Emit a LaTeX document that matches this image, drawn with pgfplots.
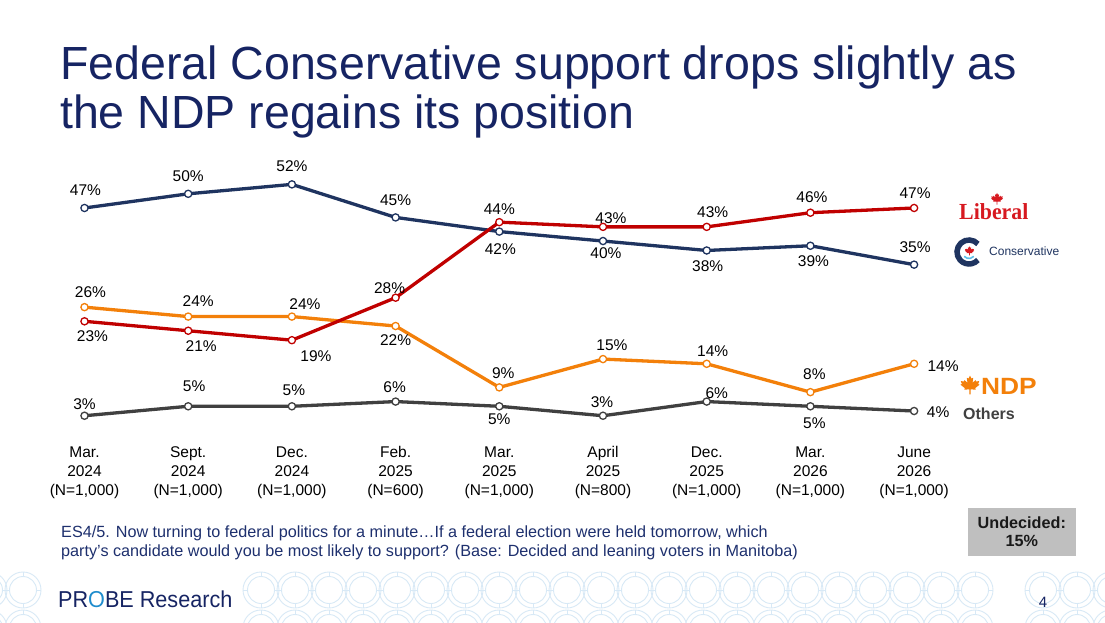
\documentclass[border=0pt]{standalone}
\usepackage{pgfplots}
\pgfplotsset{compat=1.18}
\usepackage{pgfplotstable}
\usepackage{fontspec}
\setmainfont{Liberation Sans}
\newfontfamily\serifb{Liberation Serif}

\definecolor{consnavy}{RGB}{31,52,96}
\definecolor{libred}{RGB}{192,0,0}
\definecolor{logored}{RGB}{215,25,32}
\definecolor{ndporange}{RGB}{243,128,10}
\definecolor{othgray}{RGB}{64,64,64}
\definecolor{titleblue}{RGB}{22,36,99}
\definecolor{footblue}{RGB}{30,48,110}
\definecolor{probeblue}{RGB}{30,140,205}
\definecolor{ringc}{RGB}{216,233,246}
\definecolor{cblue}{RGB}{95,190,232}
\definecolor{undgray}{RGB}{191,191,191}

% maple leaf: #1 centre, #2 scale, #3 colour
\newcommand{\mapleleaf}[3]{%
 \fill[#3, shift={(#1)}, scale=#2] (0,1) -- (0.13,0.75) -- (0.28,0.82) -- (0.22,0.38) -- (0.48,0.62) -- (0.54,0.49) -- (0.80,0.54) -- (0.71,0.28) -- (0.83,0.22) -- (0.45,-0.08) -- (0.50,-0.22) -- (0.06,-0.18) -- (0.06,-0.62) -- (-0.06,-0.62) -- (-0.06,-0.18) -- (-0.50,-0.22) -- (-0.45,-0.08) -- (-0.83,0.22) -- (-0.71,0.28) -- (-0.80,0.54) -- (-0.54,0.49) -- (-0.48,0.62) -- (-0.22,0.38) -- (-0.28,0.82) -- (-0.13,0.75) -- cycle;}

% x y dx dy : dx, dy = label offsets (pt) from the point
\pgfplotstableread{
x y dx dy
0 47 1 18
1 50 0 18
2 52 0 18.5
3 45 0 17
4 42 1 -18
5 40 3 -12
6 38 1 -16
7 39 3 -15
8 35 1 17.6
}\cons
\pgfplotstableread{
x y dx dy
0 23 8 -15
1 21 13 -15
2 19 24 -16
3 28 -6 10
4 44 0 12.7
5 43 8 9
6 43 6 14.5
7 46 1.5 15.5
8 47 1 15
}\lib
\pgfplotstableread{
x y dx dy
0 26 6 15
1 24 10 15
2 24 13 12
3 22 0 -14.3
4 9 4 14.7
5 15 9 14
6 14 6 13
7 8 4 18
8 14 29 -2
}\ndp
\pgfplotstableread{
x y dx dy
0 3 0 12
1 5 6 20
2 5 2 16
3 6 -1 14
4 5 0 -13
5 3 -1 13.5
6 6 10 8
7 5 4 -17
8 4 24 -1
}\oth

\newcommand{\tl}[3]{\begin{tabular}{@{}c@{}}#1\\#2\\#3\end{tabular}}

\begin{document}
\begin{tikzpicture}[x=1pt,y=1pt]
\useasboundingbox (0,0) rectangle (1105,622);
\fill[white] (0,0) rectangle (1105,622);
% decorative rings
\begin{scope}
\clip (0,0) rectangle (1105,622);
\foreach \cx in {-11,23,261,295,329,363,397,431,465,499,533,567,601,635,669,703,737,771,805,839,873,907,941,975,1043,1077,1111}{
  \foreach \cy in {32,-6}{
    \draw[ringc, line width=0.9pt] (\cx,\cy) circle (18);
    \draw[ringc, line width=0.9pt] (\cx,\cy) circle (13.5);
    \draw[ringc, line width=0.9pt] (\cx,\cy+13.5) -- (\cx,\cy+18);
    \draw[ringc, line width=0.9pt] (\cx,\cy-13.5) -- (\cx,\cy-18);
    \draw[ringc, line width=0.9pt] (\cx-13.5,\cy) -- (\cx-18,\cy);
    \draw[ringc, line width=0.9pt] (\cx+13.5,\cy) -- (\cx+18,\cy);
  }
}
\end{scope}

% title
\node[anchor=base west, inner sep=0pt, text=titleblue, font=\fontsize{46.5}{49.7}\selectfont] at (60,542.7) {Federal Conservative support drops slightly as};
\node[anchor=base west, inner sep=0pt, text=titleblue, font=\fontsize{46.5}{49.7}\selectfont] at (60,493) {the NDP regains its position};

\begin{axis}[
  at={(84.5pt,192.1pt)}, anchor=south west,
  scale only axis, width=829.6pt, height=259.7pt,
  xmin=0, xmax=8, ymin=0, ymax=55,
  clip=false,
  axis line style={draw=none}, tick style={draw=none},
  ytick=\empty,
  xtick={0,...,8},
  xticklabels={{\tl{Mar.}{2024}{(N=1,000)}},{\tl{Sept.}{2024}{(N=1,000)}},{\tl{Dec.}{2024}{(N=1,000)}},{\tl{Feb.}{2025}{(N=600)}},{\tl{Mar.}{2025}{(N=1,000)}},{\tl{April}{2025}{(N=800)}},{\tl{Dec.}{2025}{(N=1,000)}},{\tl{Mar.}{2026}{(N=1,000)}},{\tl{June}{2026}{(N=1,000)}}},
  xticklabel style={anchor=north, inner sep=0pt, font=\fontsize{15.5}{19}\selectfont, text=black, yshift=-13.8pt},
  /pgf/number format/assume math mode=true,
  every axis plot/.append style={line width=3.3pt, mark=*, mark size=3.6pt},
  nodes near coords={\pgfmathprintnumber{\pgfplotspointmeta}\%},
  visualization depends on={\thisrow{dx}\as\dx},
  visualization depends on={\thisrow{dy}\as\dy},
  every node near coord/.append style={anchor=center, xshift=\dx pt, yshift=\dy pt, text=black, font=\fontsize{15.5}{18}\selectfont, inner sep=0pt},
]
\addplot[color=othgray, mark options={fill=white, line width=1.3pt, solid}] table[x=x,y=y] {\oth};
\addplot[color=ndporange, mark options={fill=white, line width=1.3pt, solid}] table[x=x,y=y] {\ndp};
\addplot[color=consnavy, mark options={fill=white, line width=1.3pt, solid}] table[x=x,y=y] {\cons};
\addplot[color=libred, mark options={fill=white, line width=1.3pt, solid}] table[x=x,y=y] {\lib};
\end{axis}

% party logos
\node[anchor=base west, inner sep=0pt, text=logored, font=\serifb\bfseries\fontsize{23}{23}\selectfont, xscale=0.95] at (959,402) {Liberal};
\mapleleaf{997,421.8}{7.2}{logored}

\draw[consnavy, line width=5.5pt] (969,370) ++(42:12) arc (42:318:12);
\draw[cblue, line width=1.6pt] (969,370) ++(222:6.5) arc (222:318:6.5);
\mapleleaf{969.5,370}{5.6}{logored}
\node[anchor=base west, inner sep=0pt, text=consnavy, font=\fontsize{12}{12}\selectfont] at (989,366) {Conservative};

\mapleleaf{970,234.8}{11.5}{ndporange}
\node[anchor=base west, inner sep=0pt, text=ndporange, font=\bfseries\fontsize{23.5}{23.5}\selectfont, xscale=1.12] at (981,228) {NDP};

\node[anchor=base west, inner sep=0pt, text=othgray, font=\bfseries\fontsize{16}{16}\selectfont] at (963,202.7) {Others};

% footnote
\node[anchor=base west, inner sep=0pt, text=footblue, font=\fontsize{16.2}{19}\selectfont] at (61,85) {ES4/5. Now turning to federal politics for a minute…If a federal election were held tomorrow, which};
\node[anchor=base west, inner sep=0pt, text=footblue, font=\fontsize{16.2}{19}\selectfont] at (61,66) {party’s candidate would you be most likely to support? (Base: Decided and leaning voters in Manitoba)};

% undecided box
\fill[undgray] (967.7,66.3) rectangle (1076,113.7);
\node[anchor=base, inner sep=0pt, text=black!90, font=\bfseries\fontsize{16.2}{16.2}\selectfont] at (1021.8,93.7) {Undecided:};
\node[anchor=base, inner sep=0pt, text=black!90, font=\bfseries\fontsize{16.2}{16.2}\selectfont] at (1021.8,75.3) {15\%};

% footer
\node[anchor=base west, inner sep=0pt, text=titleblue, font=\fontsize{23}{23}\selectfont, xscale=0.94] at (58,15) {PR{\color{probeblue}O}BE Research};
\node[anchor=base, inner sep=0pt, text=titleblue, font=\fontsize{15}{15}\selectfont] at (1043,15) {4};
\end{tikzpicture}
\end{document}
